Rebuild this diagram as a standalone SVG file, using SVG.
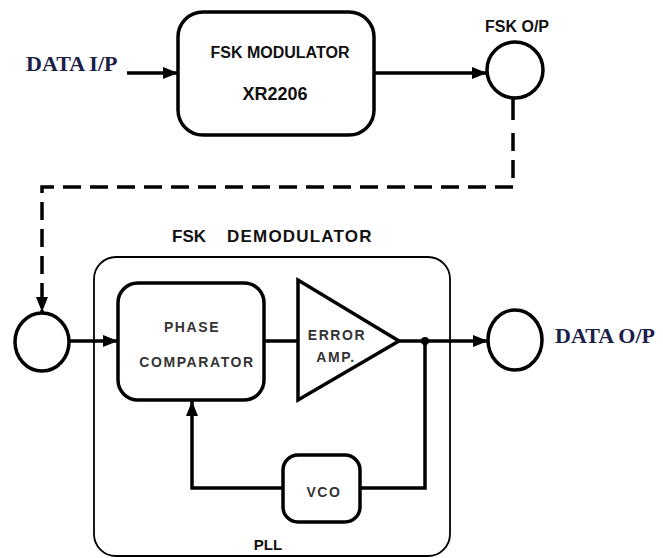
<svg xmlns="http://www.w3.org/2000/svg" width="663" height="558" viewBox="0 0 663 558">
<style>
.blk{fill:#fff;stroke:#000;stroke-width:3.5}
.ln{fill:none;stroke:#000;stroke-width:3.5}
.lbl{font-family:"Liberation Sans",Arial,sans-serif;font-weight:bold;fill:#111}
.in{font-family:"Liberation Sans",Arial,sans-serif;font-weight:bold;fill:#333;font-size:14px;letter-spacing:1.6px}
.ser{font-family:"Liberation Serif","Times New Roman",serif;font-weight:bold;font-size:22px;fill:#1a2048}
</style>
<defs>
<marker id="ah" markerUnits="userSpaceOnUse" markerWidth="16" markerHeight="12" refX="15" refY="6" orient="auto">
<path d="M0,0 L15,6 L0,12 Z" fill="#000"/>
</marker>
</defs>
<rect width="663" height="558" fill="#fff"/>
<g id="connectors">
<line class="ln" x1="127" y1="73" x2="178" y2="73" marker-end="url(#ah)"/>
<line class="ln" x1="374" y1="73" x2="487" y2="73" marker-end="url(#ah)"/>
<line class="ln" x1="513" y1="98" x2="513" y2="120"/>
<path class="ln" d="M513,133 V187 H42 V312" stroke-dasharray="18 9" marker-end="url(#ah)"/>
<line class="ln" x1="69" y1="341" x2="118" y2="341" marker-end="url(#ah)"/>
<line class="ln" x1="264" y1="341" x2="298" y2="341"/>
<line class="ln" x1="399" y1="341" x2="488" y2="341" marker-end="url(#ah)"/>
<circle cx="425" cy="341" r="4" fill="#000"/>
<polyline class="ln" points="425,341 425,488 360,488"/>
<polyline class="ln" points="283,488 192,488 192,401" marker-end="url(#ah)"/>
</g>
<g id="data-ip"><text class="ser" x="26" y="71">DATA I/P</text></g>
<g id="fsk-modulator">
<rect class="blk" x="178" y="12" width="196" height="123" rx="25"/>
<text class="lbl" x="280" y="58" font-size="16" text-anchor="middle">FSK MODULATOR</text>
<text class="lbl" x="275" y="100" font-size="18" text-anchor="middle">XR2206</text>
</g>
<g id="fsk-op">
<ellipse class="blk" cx="515" cy="70" rx="28" ry="28" stroke-width="3"/>
<text class="lbl" x="517" y="32" font-size="16" text-anchor="middle">FSK O/P</text>
</g>
<g id="fsk-demodulator">
<rect x="94" y="257" width="356" height="299" rx="22" fill="none" stroke="#000" stroke-width="1.8"/>
<text class="lbl" y="242" font-size="17"><tspan x="172">FSK</tspan><tspan x="227" letter-spacing="1.2">DEMODULATOR</tspan></text>
<text class="lbl" x="268" y="550" font-size="15" fill="#444" text-anchor="middle">PLL</text>
</g>
<g id="input-node"><ellipse class="blk" cx="42" cy="342" rx="27" ry="29" stroke-width="3"/></g>
<g id="phase-comparator">
<rect class="blk" x="118" y="283" width="146" height="117" rx="20"/>
<text class="in" x="192" y="332" text-anchor="middle">PHASE</text>
<text class="in" x="197" y="367" text-anchor="middle">COMPARATOR</text>
</g>
<g id="error-amp">
<polygon class="blk" points="298,280 298,400 399,341"/>
<text class="in" x="337" y="340" text-anchor="middle" letter-spacing="2.4">ERROR</text>
<text class="in" x="336" y="362" text-anchor="middle" letter-spacing="0.5">AMP.</text>
</g>
<g id="vco">
<rect class="blk" x="283" y="455" width="77" height="67" rx="15"/>
<text class="in" x="324" y="497" text-anchor="middle" letter-spacing="1.5">VCO</text>
</g>
<g id="data-op">
<ellipse class="blk" cx="515" cy="340" rx="27" ry="30" stroke-width="3"/>
<text class="ser" x="555" y="343">DATA O/P</text>
</g>
</svg>
